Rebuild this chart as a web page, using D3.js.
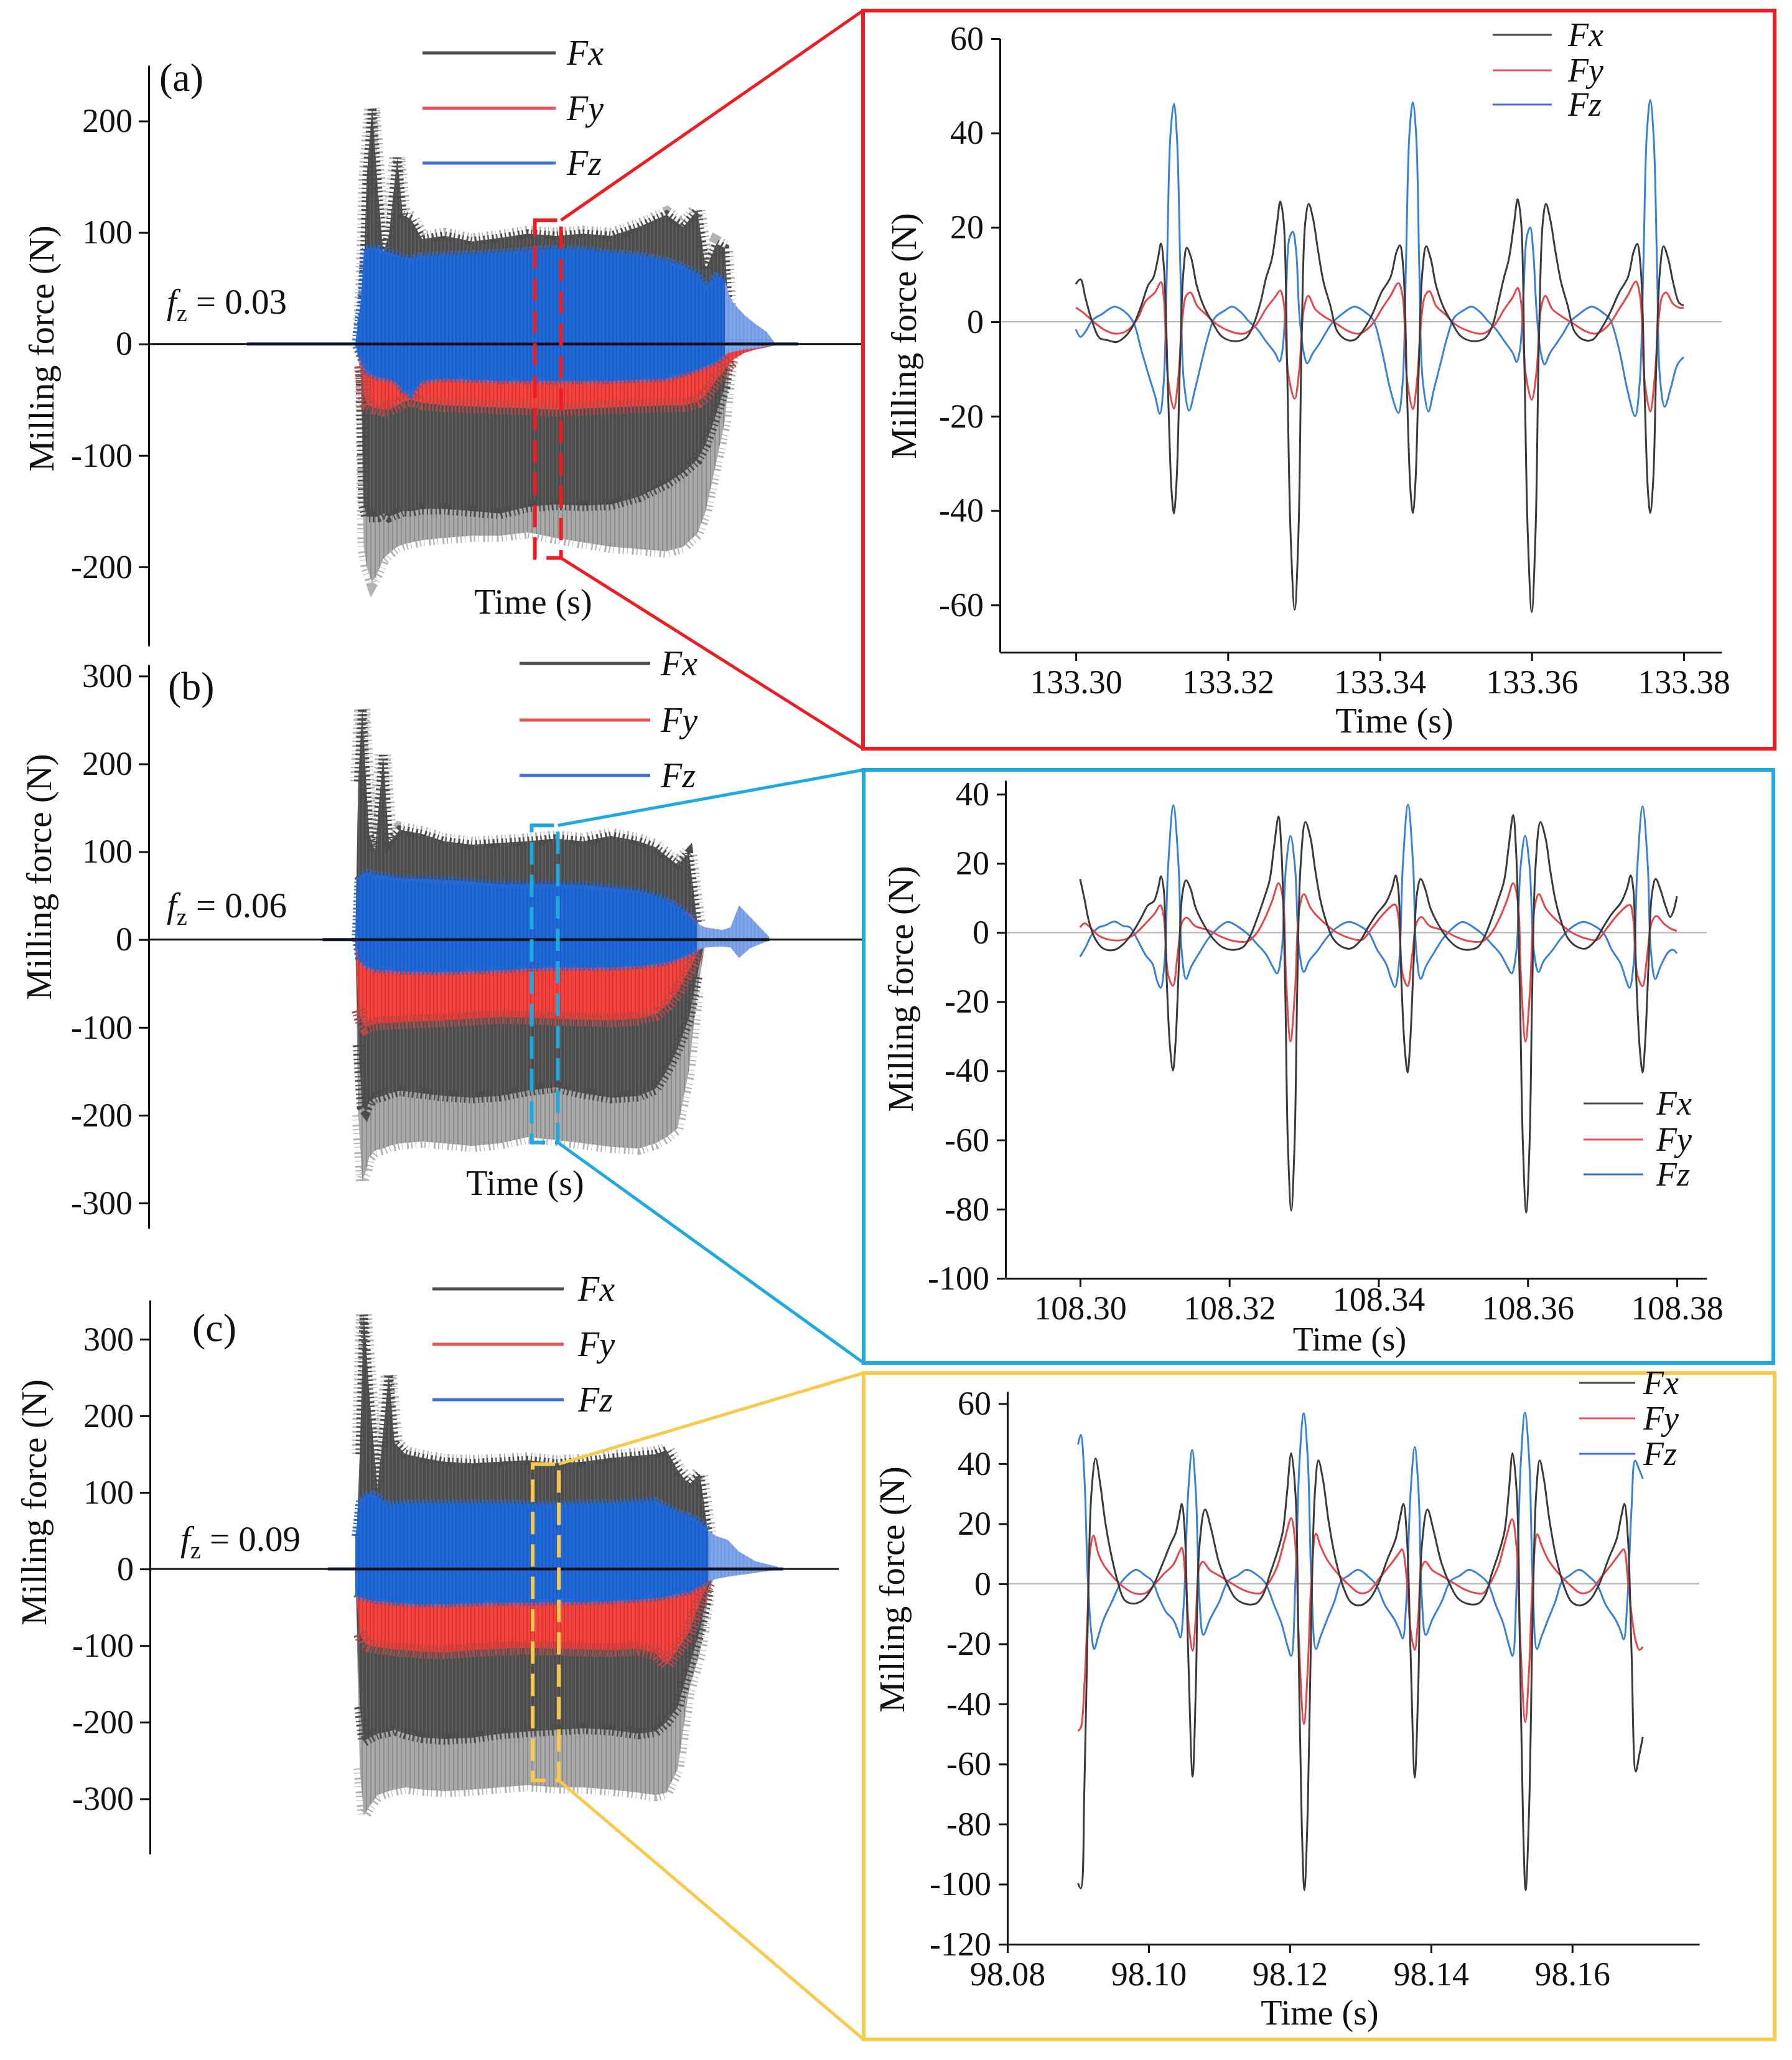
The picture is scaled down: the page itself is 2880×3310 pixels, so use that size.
<!DOCTYPE html>
<html>
<head>
<meta charset="utf-8">
<script src="https://cdn.jsdelivr.net/npm/d3@7"></script>
<style>
  body { margin: 0; background: #fff; }
</style>
</head>
<body>
<div id="wrapper"></div>
<script>
var FONT = '"Liberation Serif", "Times New Roman", serif';

// ---------- overview panels: envelopes (time s, force N) ----------
var timeA  = [69.1,70.9,71.8,72.8,74.6,76.5,78.3,80.2,83.0,84.8,87.6,91.3,98.8,108.0,117.3,126.6,135.9,145.1,154.4,163.7,172.9,178.5,183.2,186.0,189.6,192.4,193.7,195.2,198.9,202.6,206.3,209.1];
var fxHiA  = [0,10,60,150,212,139,82,97,167,116,112,94,97,92,95,99,97,99,97,105,116,105,120,67,90,86,22,3,0,0,0,0];
var fxLoA  = [0,-20,-144,-155,-155,-155,-152,-155,-152,-150,-150,-148,-148,-150,-152,-146,-144,-145,-144,-137,-125,-115,-104,-90,-62,-38,-12,-3,0,0,0,0];
var fxOutA = [0,-30,-182,-200,-214,-205,-193,-188,-182,-180,-178,-176,-174,-172,-172,-169,-174,-178,-182,-184,-186,-182,-170,-150,-105,-69,-30,-8,-1,0,0,0];
var fyHiA  = [0,20,30,30,30,30,30,30,30,30,30,30,30,30,30,30,30,30,30,30,30,30,30,30,30,25,15,10,4,2,1,0];
var fyLoA  = [0,-20,-45,-54,-57,-58,-59,-59,-55,-52,-50,-53,-55,-56,-57,-58,-59,-58,-57,-56,-55,-55,-52,-46,-32,-23,-18,-14,-8,-5,-3,-1];
var fzHiA  = [3,40,82,86,86,86,84,82,80,78,77,79,80,81,82,84,86,85,82,80,75,70,63,52,61,57,45,37,26,18,11,1];
var fzLoA  = [-2,-15,-20,-25,-28,-30,-31,-31,-35,-42,-46,-33,-31,-32,-33,-33,-33,-33,-33,-32,-31,-27,-23,-20,-16,-10,-8,-7,-5,-4,-2,-1];
var recordA = [32.8, 216.9];
var tailA = 192.4;

var timeB  = [56.5,57.3,58.4,59.3,60.3,61.9,64.1,65.7,68.7,74.8,80.8,88.4,96.0,103.6,111.2,118.8,126.4,134.0,138.6,141.6,144.6,147.7,150.0,152.2,156.8,159.1,161.4,164.4,169.7];
var fxHiB  = [0,180,263,190,120,100,210,110,125,120,112,108,110,112,115,112,118,112,105,95,85,99,20,0,0,0,0,0,0];
var fxLoB  = [0,-120,-190,-195,-185,-180,-178,-175,-172,-175,-178,-180,-178,-172,-168,-175,-180,-178,-170,-150,-125,-90,-40,0,0,0,0,0,0];
var fxOutB = [0,-200,-275,-265,-248,-240,-238,-235,-232,-230,-232,-235,-232,-225,-228,-232,-236,-238,-232,-225,-215,-150,-60,-5,0,0,0,0,0];
var fyHiB  = [0,30,35,35,35,35,35,35,35,35,35,35,35,35,35,35,35,35,35,35,35,30,20,8,3,2,2,1,0];
var fyLoB  = [0,-80,-95,-100,-98,-96,-95,-95,-94,-93,-92,-90,-88,-89,-90,-91,-92,-90,-85,-75,-60,-35,-15,-5,-2,-1,-1,-1,0];
var fzHiB  = [0,68,75,76,76,74,73,72,70,69,68,66,63,63,63,62,59,55,50,45,38,28,18,14,11,14,39,26,3];
var fzLoB  = [0,-21,-26,-30,-32,-34,-35,-35,-36,-37,-37,-36,-35,-33,-32,-32,-32,-30,-28,-26,-22,-17,-12,-9,-8,-9,-21,-10,-1];
var recordB = [47.5, 169.7];
var tailB = 150.0;

var timeC  = [50.9,52.0,53.0,54.4,56.4,59.2,60.6,63.3,67.5,73.0,79.9,86.7,93.6,100.5,107.4,114.3,121.1,125.3,128.0,130.8,133.5,136.3,138.4,140.4,143.2,145.9,150.1,155.6];
var fxHiC  = [0,150,332,226,104,254,165,150,145,140,138,140,142,138,140,145,148,150,155,129,110,124,43,0,0,0,0,0];
var fxLoC  = [0,-180,-225,-220,-215,-212,-210,-215,-220,-222,-220,-215,-212,-210,-208,-210,-215,-212,-200,-180,-130,-80,-25,0,0,0,0,0];
var fxOutC = [0,-260,-322,-310,-295,-290,-288,-285,-288,-290,-288,-285,-282,-285,-285,-288,-292,-295,-292,-261,-160,-109,-33,-2,0,0,0,0];
var fyHiC  = [0,75,40,40,40,40,40,40,40,40,40,40,40,40,40,40,40,40,40,40,40,30,15,5,3,2,1,0];
var fyLoC  = [-20,-84,-95,-100,-102,-104,-105,-106,-108,-109,-106,-104,-103,-104,-105,-106,-104,-110,-125,-105,-84,-43,-18,-8,-4,-2,-1,0];
var fzHiC  = [43,90,94,99,95,84,85,86,86,86,86,86,85,84,86,86,88,89,82,74,70,62,50,43,38,23,10,3];
var fzLoC  = [-33,-37,-38,-40,-42,-43,-44,-45,-46,-46,-45,-44,-44,-43,-43,-42,-40,-38,-36,-33,-30,-22,-16,-13,-10,-8,-5,-1];
var recordC = [44.1, 156.9];
var tailC = 138.4;

var yTicksA = [-200,-100,0,100,200];
var yTicksB = [-300,-200,-100,0,100,200,300];
var yTicksC = [-300,-200,-100,0,100,200,300];

// ---------- zoomed windows: [ms after window start, force N] ----------
var startA = 133.30;
var fxA = [[0,8],[0.6,9],[1.3,4.8],[2.2,-0.2],[3.1,-3.4],[4.2,-3.9],[5.3,-4.3],[6.3,-3.4],[7.5,-0.9],[8.6,3.4],[9.5,7.7],[10.2,9.4],[10.8,13.4],[11.2,16.6],[11.6,11.2],[12.15,-16],[12.6,-36],[12.9,-40.6],[13.25,-33.8],[13.7,-8.8],[14.15,10.5],[14.6,15.7],[15.2,13.4],[15.9,7.7],[16.8,3.4],[18.0,-0.2],[19.2,-3.1],[20.9,-4.1],[22.4,-3.4],[23.3,-0.9],[24.3,4.1],[25.0,9.1],[25.8,13.4],[26.5,21.2],[26.9,25.5],[27.35,21.2],[27.8,-8.8],[28.25,-44.5],[28.8,-61],[29.3,-44.5],[29.7,-5.2],[30.2,21.2],[30.65,25],[31.2,22],[31.9,14.8],[32.6,8.4],[33.5,3.4],[34.4,-2],[35.6,-3.8],[36.7,-3.8],[37.9,-1.6],[39.1,1.9],[40.2,6.2],[41.4,9.4],[42.2,14.8],[42.65,16.2],[43.1,11.2],[43.6,-16],[44.05,-36],[44.35,-40.5],[44.7,-33.8],[45.15,-8.8],[45.6,10.5],[46.1,16],[46.7,13.4],[47.4,7.7],[48.3,3.4],[49.5,-0.2],[50.7,-3.1],[52.4,-4.1],[53.9,-3.4],[54.8,-0.9],[55.6,4.1],[56.3,9.1],[57.0,13.4],[57.7,21.2],[58.15,26],[58.6,21.2],[59.03,-8.8],[59.47,-44.5],[60.0,-61.5],[60.5,-44.5],[60.93,-5.2],[61.46,21.2],[61.87,25],[62.4,22],[63.13,14.8],[63.86,8.4],[64.74,3.4],[65.62,-2],[66.8,-3.8],[68.0,-3.8],[69.1,-1.6],[70.3,1.9],[71.5,6.2],[72.65,9.4],[73.4,14.8],[73.88,16.5],[74.35,11.2],[74.87,-16],[75.3,-36],[75.6,-40.5],[75.98,-33.8],[76.4,-8.8],[76.86,10.5],[77.35,16],[77.95,13.4],[78.7,7.7],[79.4,4],[80,3.5]];
var fyA = [[0,3],[1.0,1.9],[2.2,0.2],[3.65,-1.6],[5.1,-2.5],[6.6,-2],[8.05,0.5],[9.2,4.4],[10.4,6.2],[11.2,8.4],[11.55,5.5],[12.15,-12.4],[12.9,-18.4],[13.45,-12.4],[14.05,1.2],[14.5,5.5],[15.1,6.2],[15.95,3.4],[17.1,1.6],[18.6,-0.6],[20.3,-2],[22.1,-2.5],[23.6,-0.9],[25.0,2.7],[26.2,5.2],[26.9,6.6],[27.35,4.1],[27.95,-11],[28.8,-16.3],[29.4,-10.2],[30.0,2.7],[30.6,5.5],[31.5,2.7],[32.6,1.2],[34.1,-0.2],[35.9,-2],[37.3,-2.5],[38.8,-0.9],[40.25,2.7],[41.4,5.5],[42.45,8.2],[43.0,5.5],[43.6,-12.4],[44.35,-18.5],[44.9,-12.4],[45.5,1.2],[45.95,5.5],[46.55,6.5],[47.4,3.4],[48.6,1.6],[50.0,-0.6],[51.8,-2],[53.6,-2.5],[55.0,-0.9],[56.4,2.7],[57.5,5.2],[58.15,7.2],[58.6,4.1],[59.2,-11],[60.0,-16.5],[60.65,-10.2],[61.2,2.7],[61.8,5.5],[62.7,2.7],[63.9,1.2],[65.3,-0.2],[67.1,-2],[68.5,-2.5],[70.0,-0.9],[71.5,2.7],[72.6,5.5],[73.7,8.5],[74.25,5.5],[74.85,-12.4],[75.6,-19],[76.15,-12.4],[76.75,1.2],[77.2,5.5],[77.7,6.2],[78.6,3.8],[79.4,3],[80,3]];
var fzA = [[0,-1.6],[0.6,-3.2],[1.3,-2],[2.2,0.4],[3.4,1.6],[5.1,3.2],[6.6,1.9],[7.6,-0.2],[8.6,-5.9],[9.5,-10.9],[10.4,-15.6],[11.05,-19.5],[11.55,-13.1],[12.0,12.7],[12.45,39.8],[12.9,46.2],[13.3,39.1],[13.75,11.2],[14.2,-12.4],[14.9,-18.8],[15.65,-14.5],[16.5,-8.8],[17.4,-3.1],[18.3,0.9],[19.5,2.3],[20.6,3.2],[21.8,1.9],[22.7,0.2],[23.9,-1.6],[25.0,-4.1],[26.2,-6.6],[26.8,-8.4],[27.2,-5.9],[27.65,5.5],[28.1,17.7],[28.55,19.1],[29.0,14.8],[29.4,1.9],[30.0,-6.6],[30.45,-8.8],[31.2,-6.6],[32.1,-4.5],[32.9,-2.3],[33.8,-0.1],[35.0,1.6],[36.7,3.2],[38.2,1.9],[39.1,0.5],[40.25,-5.9],[41.4,-14.5],[42.45,-19.3],[43.0,-13.1],[43.45,12.7],[43.9,39.8],[44.35,46.5],[44.8,39.1],[45.2,11.2],[45.65,-12.4],[46.4,-19],[47.1,-14.5],[48.0,-8.8],[48.9,-3.1],[49.8,0.9],[50.9,2.3],[52.1,3.2],[53.3,1.9],[54.2,0.2],[55.3,-1.6],[56.4,-4.1],[57.5,-6.6],[58.0,-8.5],[58.45,-5.9],[58.9,5.5],[59.35,18],[59.8,20],[60.2,14.8],[60.65,1.9],[61.2,-6.6],[61.7,-9],[62.4,-6.6],[63.3,-4.5],[64.2,-2.3],[65.0,-0.1],[66.2,1.6],[67.9,3.2],[69.4,1.9],[70.3,0.5],[71.5,-5.9],[72.6,-14.5],[73.6,-20],[74.2,-13.1],[74.7,12.7],[75.15,40],[75.6,47],[76.05,39.1],[76.5,11.2],[76.9,-12.4],[77.5,-18],[78.3,-14],[79.2,-9],[80,-7.5]];

var startB = 108.30;
var fxB = [[0,15.5],[0.6,9.5],[1.2,3.1],[2.0,-1.7],[3.1,-4.6],[4.6,-5],[5.8,-3.3],[7.0,-0.1],[8.2,4.3],[9.1,7.9],[9.9,9.1],[10.45,12.7],[10.85,16.3],[11.2,12.7],[11.6,-13],[12.05,-33],[12.45,-39.9],[12.8,-31.5],[13.25,-9],[13.7,11.1],[14.2,15.1],[14.8,12.7],[15.5,7.1],[16.6,2.2],[17.8,-1.7],[19.0,-4.1],[20.4,-5],[21.9,-4.1],[22.8,-1],[23.7,3.9],[24.6,9.5],[25.4,15.1],[26.0,24.8],[26.6,33.6],[27.0,23.2],[27.5,-17],[27.85,-61],[28.3,-80.4],[28.75,-61],[29.1,-17],[29.55,19.1],[30.2,32],[30.9,27.2],[31.5,18.3],[32.2,9.5],[33.0,3.1],[33.9,-1.7],[35.1,-4.1],[36.3,-4.6],[37.5,-2.5],[38.6,1.5],[39.8,5.5],[41.0,8.7],[41.8,12.7],[42.3,16.5],[42.65,12.7],[43.05,-13],[43.5,-33],[43.9,-40.5],[44.25,-31.5],[44.7,-9],[45.15,11.1],[45.65,15.5],[46.25,12.7],[46.95,7.1],[48.05,2.2],[49.25,-1.7],[50.45,-4.1],[51.85,-5],[53.35,-4.1],[54.25,-1],[55.15,3.9],[56.05,9.5],[56.85,15.1],[57.45,24.8],[58.05,34],[58.45,23.2],[58.95,-17],[59.35,-61],[59.8,-81],[60.25,-61],[60.6,-17],[61.05,19.1],[61.7,32],[62.4,27.2],[63.0,18.3],[63.7,9.5],[64.5,3.1],[65.4,-1.7],[66.6,-4.1],[67.8,-4.6],[69.0,-2.5],[70.1,1.5],[71.3,5.5],[72.5,8.7],[73.3,12.7],[73.8,16.5],[74.15,12.7],[74.55,-13],[75.0,-33],[75.4,-40.5],[75.75,-31.5],[76.2,-9],[76.65,11.1],[77.15,15.5],[77.75,12.7],[78.5,7.5],[79.1,4.5],[79.5,6],[80,10.5]];
var fyB = [[0,1.5],[0.6,2.7],[1.35,1.5],[2.5,-0.9],[4.0,-2.1],[5.8,-2.1],[7.3,-0.5],[8.8,2.7],[10.0,5.5],[10.75,7.9],[11.2,4.7],[11.8,-12.2],[12.45,-15.4],[13.1,-5.8],[13.7,3.1],[14.3,4.3],[15.4,1.9],[17.2,0.7],[19.0,-1.3],[20.7,-2.5],[22.5,-2.5],[23.7,-0.1],[24.9,4.7],[25.8,9.5],[26.6,14.3],[27.2,9.5],[27.6,-13],[28.2,-31.5],[28.8,-17],[29.4,7.1],[30.0,11.1],[30.9,7.1],[31.8,4.7],[33.0,2.3],[34.5,-0.1],[36.3,-1.7],[37.8,-2.1],[39.2,1.5],[40.7,5.5],[42.2,8.1],[42.65,4.7],[43.25,-12.2],[43.9,-15.5],[44.55,-5.8],[45.15,3.1],[45.75,4.5],[46.85,1.9],[48.65,0.7],[50.45,-1.3],[52.15,-2.5],[53.95,-2.5],[55.15,-0.1],[56.35,4.7],[57.25,9.5],[58.05,14.3],[58.65,9.5],[59.1,-13],[59.7,-31.5],[60.3,-17],[60.9,7.1],[61.5,11.1],[62.4,7.1],[63.3,4.7],[64.5,2.3],[66.0,-0.1],[67.8,-1.7],[69.3,-2.1],[70.7,1.5],[72.2,5.5],[73.7,8],[74.1,4.7],[74.7,-12.2],[75.4,-15.5],[76.05,-5.8],[76.65,3.1],[77.25,4.8],[78.3,2.5],[79.3,1],[80,0.5]];
var fzB = [[0,-7],[0.75,-4.2],[1.6,-0.5],[2.5,1.5],[3.4,2.1],[4.6,3.2],[5.8,1.9],[6.7,1.5],[7.6,-1.7],[8.8,-6.6],[9.7,-9],[10.3,-13.8],[10.8,-16],[11.3,-9],[11.8,19.1],[12.5,36.8],[13.2,19.1],[13.6,-5],[14.2,-13.4],[14.9,-9.8],[16.0,-5.8],[17.2,-1.7],[18.4,1.1],[19.8,3.1],[21.3,1.5],[22.5,-0.5],[23.7,-3.3],[24.9,-6.2],[25.8,-9.8],[26.4,-11.8],[27.0,-5.8],[27.6,19.1],[28.2,28],[28.8,19.1],[29.4,-5.8],[30.0,-11.4],[30.7,-8.2],[31.8,-5.3],[33.0,-1.7],[34.2,1.1],[36.0,3.1],[37.5,1.9],[38.7,-0.1],[39.8,-4.9],[41.0,-9],[41.7,-13.5],[42.2,-15.8],[42.75,-9],[43.25,19.1],[43.95,37],[44.65,19.1],[45.05,-5],[45.65,-13.4],[46.35,-9.8],[47.45,-5.8],[48.65,-1.7],[49.85,1.1],[51.25,3.1],[52.75,1.5],[53.95,-0.5],[55.15,-3.3],[56.35,-6.2],[57.25,-9.8],[57.85,-11.8],[58.45,-5.8],[59.05,19.1],[59.65,28],[60.25,19.1],[60.85,-5.8],[61.45,-11.4],[62.15,-8.2],[63.25,-5.3],[64.45,-1.7],[65.65,1.1],[67.45,3.1],[68.95,1.9],[70.15,-0.1],[71.25,-4.9],[72.45,-9],[73.15,-13.5],[73.65,-16],[74.2,-9],[74.7,19.1],[75.4,36.5],[76.1,19.1],[76.5,-5],[77.1,-13.4],[77.8,-9.8],[78.9,-5.5],[79.5,-5],[80,-6]];

var startC = 98.09;
var fxC = [[0,-99.7],[0.4,-101.4],[0.9,-68.8],[1.4,-10.7],[1.9,30.1],[2.5,41.7],[3.2,32.4],[3.85,20.8],[4.65,10.3],[5.6,1],[6.6,-5.4],[7.9,-6.6],[9.2,-5.4],[10.5,-1.3],[11.8,5.6],[13.1,13.2],[13.8,16.7],[14.3,21.9],[14.7,26.6],[15.1,18.4],[15.6,-22.3],[16.24,-64.2],[16.7,-33.9],[17.2,12.6],[18.0,24.8],[18.85,18.4],[20.0,6.8],[21.3,-0.8],[22.3,-4.8],[23.6,-6.6],[25.2,-6.6],[26.2,-3.7],[27.2,3.3],[28.2,10.3],[29.0,17.3],[29.6,30.1],[30.2,43.5],[30.8,30.1],[31.25,-22.3],[31.7,-80.5],[32.07,-102],[32.55,-74.7],[33.05,-10.7],[33.55,30.1],[34.05,41.1],[34.7,34.7],[35.5,20.8],[36.5,8],[37.6,-1.2],[38.6,-6],[39.9,-7.2],[41.2,-5.4],[42.5,-0.2],[43.8,8],[45.0,15],[45.6,21.9],[46.1,26.6],[46.6,15],[47.1,-22.3],[47.7,-64.5],[48.2,-33.9],[48.7,12.6],[49.5,24.8],[50.3,18.4],[51.5,6.8],[52.8,-0.8],[53.8,-4.8],[55.1,-6.6],[56.7,-6.6],[57.7,-3.7],[58.6,3.3],[59.6,10.3],[60.4,17.3],[61.0,30.1],[61.55,43.5],[62.15,30.1],[62.6,-22.3],[63.05,-80.5],[63.4,-102],[63.9,-74.7],[64.4,-10.7],[64.9,30.1],[65.4,41.1],[66.0,34.7],[66.8,20.8],[67.8,8],[68.9,-1.2],[69.9,-6],[71.2,-7.2],[72.5,-5.4],[73.8,-0.2],[75.1,8],[76.3,15],[76.9,21.9],[77.4,26.6],[77.9,15],[78.4,-22.3],[79.0,-62.5],[79.5,-57],[80,-51]];
var fyC = [[0,-49],[0.4,-47.9],[0.9,-34],[1.35,-10.7],[1.7,10.3],[2.2,16.1],[2.85,10.3],[3.65,6.2],[5.0,2.2],[6.3,-0.8],[7.9,-3.1],[9.55,-3.1],[10.85,-0.2],[12.15,3.3],[13.45,6.2],[14.3,10.3],[14.7,12],[15.25,1],[15.75,-15.3],[16.24,-22.3],[16.7,-10.7],[17.2,5.6],[17.7,7.4],[18.7,4.5],[20.0,2.7],[21.6,0.4],[23.3,-1.9],[24.9,-3.1],[25.9,-3.1],[26.9,-0.2],[28.2,5.6],[29.3,14.9],[30.2,21.9],[30.8,12.6],[31.25,-16.5],[32.0,-46.7],[32.55,-28.1],[33.05,1],[33.7,16.7],[34.35,12.6],[35.3,8],[36.6,3.9],[38.3,-0.2],[39.9,-3.1],[41.2,-2.5],[42.8,2.2],[44.2,6.2],[45.5,10.3],[45.9,11.5],[46.6,1],[47.1,-15.3],[47.7,-22],[48.2,-10.7],[48.7,5.6],[49.2,7.4],[50.2,4.5],[51.5,2.7],[53.1,0.4],[54.8,-1.9],[56.4,-3.1],[57.4,-3.1],[58.3,-0.2],[59.5,5.6],[60.6,14.9],[61.5,21.5],[62.1,12.6],[62.6,-16.5],[63.35,-46],[63.9,-28.1],[64.4,1],[65.05,16.5],[65.7,12.6],[66.6,8],[67.9,3.9],[69.6,-0.2],[71.2,-3.1],[72.5,-2.5],[74.1,2.2],[75.5,6.2],[76.8,10.3],[77.3,11.5],[77.9,1],[78.5,-12],[79.0,-19],[79.5,-22],[80,-21]];
var fzC = [[0,46.4],[0.4,49.6],[0.9,35.9],[1.4,1],[1.9,-16.5],[2.3,-21.7],[2.85,-17.6],[3.65,-11.8],[4.8,-6],[5.95,-0.2],[6.95,2.7],[8.25,4.7],[9.55,2.7],[10.5,1],[11.5,-4.8],[12.5,-9.5],[13.45,-11.8],[14.1,-15.3],[14.5,-17.9],[15.0,-6],[15.6,30.1],[16.17,44.6],[16.7,30.1],[17.2,-4.8],[17.75,-17],[18.7,-11.8],[20.0,-6],[21.3,1],[22.6,2.7],[23.9,4.7],[25.5,2.7],[26.5,0.4],[27.8,-7.2],[28.8,-13],[29.6,-20],[30.2,-24],[30.8,1],[31.4,41.7],[31.97,56.8],[32.55,41.7],[33.05,1],[33.7,-21.7],[34.35,-17.6],[35.3,-11.8],[36.3,-6],[37.3,1],[38.3,2.7],[39.7,4.7],[41.2,2.2],[42.2,-0.2],[43.5,-7.2],[44.8,-11.8],[45.5,-15.3],[46.0,-18.2],[46.5,-6],[47.1,30.1],[47.7,45.5],[48.25,30.1],[48.7,-4.8],[49.25,-17],[50.2,-11.8],[51.5,-6],[52.8,1],[54.1,2.7],[55.4,4.7],[57.0,2.7],[58.0,0.4],[59.2,-7.2],[60.2,-13],[61.0,-20],[61.55,-24],[62.15,1],[62.75,41.7],[63.3,57],[63.9,41.7],[64.4,1],[65.0,-21.7],[65.65,-17.6],[66.6,-11.8],[67.6,-6],[68.6,1],[69.6,2.7],[71.0,4.7],[72.5,2.2],[73.5,-0.2],[74.8,-7.2],[76.1,-11.8],[76.8,-15.3],[77.3,-18.5],[77.8,-6],[78.4,25],[78.9,41],[79.5,38],[80,35]];

var xTicksA = [133.30,133.32,133.34,133.36,133.38];
var xTicksB = [108.30,108.32,108.34,108.36,108.38];
var xTicksC = [98.08,98.10,98.12,98.14,98.16];
var yTicksDA = [-60,-40,-20,0,20,40,60];
var yTicksDB = [-100,-80,-60,-40,-20,0,20,40];
var yTicksDC = [-120,-100,-80,-60,-40,-20,0,20,40,60];

var seriesNames = ['Fx','Fy','Fz'];
var lineColors = {Fx: '#3b3b3b', Fy: '#e4474c', Fz: '#3a82d8'};
var legendColors = {Fx: '#4d4d4d', Fy: '#e85258', Fz: '#3d6fd6'};

var svg = d3.select('#wrapper')
            .append('svg')
            .attr('width', 2880)
            .attr('height', 3310)
            .style('background', '#fff');

// stripe patterns give the dense-signal texture of the overview fills
var defs = svg.append('defs');
function stripes(id, base, line, w) {
    var p = defs.append('pattern')
                .attr('id', id)
                .attr('patternUnits', 'userSpaceOnUse')
                .attr('width', w).attr('height', 20);
    p.append('rect').attr('width', w).attr('height', 20).attr('fill', base);
    p.append('rect').attr('width', 2).attr('height', 20).attr('fill', line);
}
stripes('fxLight', '#a9a9a9', '#8c8c8c', 7);
stripes('fxDark', '#4c4c4c', '#5e5e5e', 6);
stripes('fyFill', '#f2453f', '#de302c', 6);
stripes('fzFill', '#2169d9', '#1a5cc4', 6);
stripes('fzTail', '#7ea5ea', '#6f98e2', 6);

function styleAxis(g) {
    g.attr('font-family', FONT).attr('font-size', 54);
    g.selectAll('path, line').attr('stroke', '#111').attr('stroke-width', 3);
    g.selectAll('text').attr('fill', '#111');
}

function vLabel(x, y, txt) {
    svg.append('text')
       .attr('transform', 'translate(' + x + ',' + y + ') rotate(-90)')
       .attr('text-anchor', 'middle')
       .attr('dominant-baseline', 'central')
       .attr('font-family', FONT).attr('font-size', 57)
       .attr('fill', '#111')
       .text(txt);
}

function plainText(x, y, txt, size, anchor) {
    return svg.append('text')
              .attr('x', x).attr('y', y)
              .attr('text-anchor', anchor || 'start')
              .attr('font-family', FONT).attr('font-size', size)
              .attr('fill', '#111')
              .text(txt);
}

function legend(x0, x1, tx, ys, width, size) {
    seriesNames.forEach(function(name, i) {
        svg.append('line')
           .attr('x1', x0).attr('x2', x1).attr('y1', ys[i]).attr('y2', ys[i])
           .attr('stroke', legendColors[name]).attr('stroke-width', width);
        svg.append('text')
           .attr('x', tx).attr('y', ys[i])
           .attr('dominant-baseline', 'central')
           .attr('font-family', FONT).attr('font-size', size)
           .attr('font-style', 'italic')
           .attr('fill', '#111')
           .text(name);
    });
}

// ---------- overview panel ----------
function overview(p) {
    var x = d3.scaleLinear().domain(p.xDomain).range(p.xRange);
    var y = d3.scaleLinear().domain(p.yDomain).range(p.yRange);
    var rows = p.time.map(function(t, i) {
        return {t: t, fxHi: p.fxHi[i], fxLo: p.fxLo[i], fxOut: p.fxOut[i],
                fyHi: p.fyHi[i], fyLo: p.fyLo[i], fzHi: p.fzHi[i], fzLo: p.fzLo[i]};
    });
    var cut = rows.filter(function(d) { return d.fxHi - d.fxOut > 6; });
    var main = rows.filter(function(d) { return d.t <= p.tail; });
    var tail = rows.filter(function(d) { return d.t >= p.tail; });
    var g = svg.append('g');

    function band(data, lo, hi, fill) {
        g.append('path')
         .datum(data)
         .attr('d', d3.area()
                      .x(function(d) { return x(d.t); })
                      .y0(function(d) { return y(d[lo]); })
                      .y1(function(d) { return y(d[hi]); }))
         .attr('fill', fill);
    }
    // fringe of short strokes along an envelope edge, mimicking the cycle peaks
    function fringe(data, key, color, width, dash) {
        g.append('path')
         .datum(data)
         .attr('d', d3.line()
                      .x(function(d) { return x(d.t); })
                      .y(function(d) { return y(d[key]); }))
         .attr('fill', 'none')
         .attr('stroke', color).attr('stroke-width', width)
         .attr('stroke-dasharray', dash);
    }

    fringe(cut, 'fxHi', '#b3b3b3', 26, '2,4,1,6,3,5');
    fringe(cut, 'fxOut', '#b3b3b3', 20, '2,5,1,7,3,4');
    band(rows, 'fxOut', 'fxHi', 'url(#fxLight)');
    band(rows, 'fxLo', 'fxHi', 'url(#fxDark)');
    fringe(cut, 'fxHi', '#4c4c4c', 14, '3,4,2,5');
    fringe(cut, 'fxLo', '#4c4c4c', 18, '3,5,2,4');
    band(rows, 'fyLo', 'fyHi', 'url(#fyFill)');
    fringe(cut, 'fyLo', '#b84848', 22, '3,3,2,4');
    band(main, 'fzLo', 'fzHi', 'url(#fzFill)');
    band(tail, 'fzLo', 'fzHi', 'url(#fzTail)');
    fringe(main, 'fzHi', '#2169d9', 12, '3,4,2,3');
    fringe(main, 'fzLo', '#2169d9', 10, '3,4');

    // idle signal before and after the cut
    g.append('line')
     .attr('x1', x(p.record[0])).attr('x2', x(p.record[1]))
     .attr('y1', y(0)).attr('y2', y(0))
     .attr('stroke', '#1b2f5c').attr('stroke-width', 5);

    // zero line
    g.append('line')
     .attr('x1', p.xRange[0]).attr('x2', p.xRange[1])
     .attr('y1', y(0)).attr('y2', y(0))
     .attr('stroke', '#111').attr('stroke-width', 3);

    var ax = g.append('g')
              .attr('transform', 'translate(' + p.xRange[0] + ',0)')
              .call(d3.axisLeft(y).tickValues(p.yTicks).tickSize(16).tickSizeOuter(0).tickPadding(10)
                      .tickFormat(function(d) { return String(d); }));
    styleAxis(ax);

    // marked window + connectors to the zoom frame
    var cx = x(p.zoomAt), yTop = y(p.box[0]), yBot = y(p.box[1]);
    svg.append('line')
       .attr('x1', cx + 21).attr('y1', yTop).attr('x2', p.frame[0]).attr('y2', p.frame[1])
       .attr('stroke', p.color).attr('stroke-width', 5);
    svg.append('line')
       .attr('x1', cx + 21).attr('y1', yBot).attr('x2', p.frame[0]).attr('y2', p.frame[3])
       .attr('stroke', p.color).attr('stroke-width', 5);
    svg.append('rect')
       .attr('x', cx - 21).attr('y', yTop)
       .attr('width', 42).attr('height', yBot - yTop)
       .attr('fill', 'none')
       .attr('stroke', p.color).attr('stroke-width', 6)
       .attr('stroke-dasharray', '36,16');

    vLabel(p.titleX, p.titleY, 'Milling force (N)');
    plainText(p.tag[0], p.tag[1], p.tag[2], 64);
    if (p.timeLabel) plainText(p.timeLabel[0], p.timeLabel[1], 'Time (s)', 56, 'middle');

    var fz = plainText(p.fz[0], p.fz[1], '', 57);
    fz.append('tspan').attr('font-style', 'italic').text('f');
    fz.append('tspan').attr('font-size', 38).attr('dy', 12).text('z');
    fz.append('tspan').attr('dy', -12).text(' = ' + p.fz[2]);

    legend(p.legend[0], p.legend[1], p.legend[2], p.legend[3], 5, 56);
}

// ---------- zoomed panel ----------
function detail(p) {
    var x = d3.scaleLinear().domain(p.xDomain).range(p.xRange);
    var y = d3.scaleLinear().domain(p.yDomain).range(p.yRange);

    svg.append('rect')
       .attr('x', p.frame[0]).attr('y', p.frame[1])
       .attr('width', p.frame[2] - p.frame[0]).attr('height', p.frame[3] - p.frame[1])
       .attr('fill', 'none').attr('stroke', p.color).attr('stroke-width', 6);

    svg.append('line')
       .attr('x1', p.xRange[0]).attr('x2', p.xRange[1])
       .attr('y1', y(0)).attr('y2', y(0))
       .attr('stroke', '#b4b4b4').attr('stroke-width', 2);

    var line = d3.line()
                 .x(function(d) { return x(p.start + d[0] / 1000); })
                 .y(function(d) { return y(d[1]); })
                 .curve(d3.curveCatmullRom.alpha(0.5));
    [['Fz', p.fz], ['Fy', p.fy], ['Fx', p.fx]].forEach(function(s) {
        svg.append('path')
           .datum(s[1])
           .attr('d', line)
           .attr('fill', 'none')
           .attr('stroke', lineColors[s[0]])
           .attr('stroke-width', 3);
    });

    var gx = svg.append('g')
                .attr('transform', 'translate(0,' + p.yRange[0] + ')')
                .call(d3.axisBottom(x).tickValues(p.xTicks).tickSize(14).tickSizeOuter(0).tickPadding(14)
                        .tickFormat(function(d) { return d.toFixed(2); }));
    styleAxis(gx);
    if (p.raiseTick !== undefined) {
        gx.selectAll('.tick text').filter(function(d, i) { return i === p.raiseTick; })
          .attr('y', 14);
    }
    var gy = svg.append('g')
                .attr('transform', 'translate(' + p.xRange[0] + ',0)')
                .call(d3.axisLeft(y).tickValues(p.yTicks).tickSize(14).tickSizeOuter(0).tickPadding(12)
                        .tickFormat(function(d) { return String(d); }));
    styleAxis(gy);

    vLabel(p.titleX, p.titleY, 'Milling force (N)');
    plainText(p.timeLabel[0], p.timeLabel[1], 'Time (s)', p.timeSize || 56, 'middle');
    legend(p.legend[0], p.legend[1], p.legend[2], p.legend[3], 3, 54);
}

overview({
    time: timeA, fxHi: fxHiA, fxLo: fxLoA, fxOut: fxOutA, fyHi: fyHiA, fyLo: fyLoA, fzHi: fzHiA, fzLo: fzLoA,
    record: recordA, tail: tailA, yTicks: yTicksA,
    xDomain: [0, 238.1], xRange: [239, 1385], yDomain: [-271, 250], yRange: [1038, 105],
    zoomAt: startA, box: [111, -192], frame: [1387, 17, 2852, 1203], color: '#ee1d23',
    titleX: 66, titleY: 560, tag: [256, 146, '(a)'], timeLabel: [857, 986], fz: [268, 504, '0.03'],
    legend: [679, 893, 911, [85, 174, 262]]
});
overview({
    time: timeB, fxHi: fxHiB, fxLo: fxLoB, fxOut: fxOutB, fyHi: fyHiB, fyLo: fyLoB, fzHi: fzHiB, fzLo: fzLoB,
    record: recordB, tail: tailB, yTicks: yTicksB,
    xDomain: [0, 195.5], xRange: [239, 1388], yDomain: [-329, 313], yRange: [1974, 1068],
    zoomAt: startB, box: [130, -231], frame: [1388, 1237, 2850, 2190], color: '#1ea9e1',
    titleX: 62, titleY: 1409, tag: [270, 1124, '(b)'], timeLabel: [844, 1920], fz: [268, 1474, '0.06'],
    legend: [835, 1045, 1062, [1066, 1157, 1246]]
});
overview({
    time: timeC, fxHi: fxHiC, fxLo: fxLoC, fxOut: fxOutC, fyHi: fyHiC, fyLo: fyLoC, fzHi: fzHiC, fzLo: fzLoC,
    record: recordC, tail: tailC, yTicks: yTicksC,
    xDomain: [0, 170.7], xRange: [241, 1348], yDomain: [-372, 351], yRange: [2979, 2089],
    zoomAt: startC, box: [137, -276], frame: [1388, 2206, 2852, 3277], color: '#f8c94a',
    titleX: 54, titleY: 2414, tag: [309, 2155, '(c)'], timeLabel: null, fz: [290, 2492, '0.09'],
    legend: [695, 906, 929, [2071, 2160, 2249]]
});

detail({
    start: startA, fx: fxA, fy: fyA, fz: fzA, xTicks: xTicksA, yTicks: yTicksDA,
    xDomain: [133.29, 133.385], xRange: [1607, 2767], yDomain: [-70, 60], yRange: [1048, 62],
    frame: [1387, 17, 2852, 1203], color: '#ee1d23',
    titleX: 1452, titleY: 540, timeLabel: [2241, 1177],
    legend: [2399, 2494, 2520, [56, 113, 168]]
});
detail({
    start: startB, fx: fxB, fy: fyB, fz: fzB, xTicks: xTicksB, yTicks: yTicksDB,
    xDomain: [108.29, 108.384], xRange: [1616, 2743], yDomain: [-100, 44], yRange: [2054, 1254],
    frame: [1388, 1237, 2850, 2190], color: '#1ea9e1', raiseTick: 2,
    titleX: 1447, titleY: 1589, timeLabel: [2169, 2170], timeSize: 54,
    legend: [2545, 2641, 2662, [1773, 1831, 1887]]
});
detail({
    start: startC, fx: fxC, fy: fyC, fz: fzC, xTicks: xTicksC, yTicks: yTicksDC,
    xDomain: [98.08, 98.178], xRange: [1619, 2731], yDomain: [-120, 64], yRange: [3124, 2236],
    frame: [1388, 2206, 2852, 3277], color: '#f8c94a',
    titleX: 1433, titleY: 2554, timeLabel: [2121, 3253],
    legend: [2538, 2628, 2641, [2222, 2279, 2336]]
});
</script>
</body>
</html>
